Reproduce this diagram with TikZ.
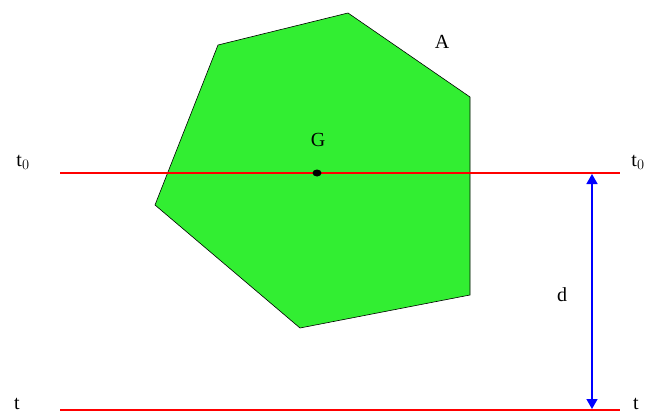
\documentclass[tikz,border=0pt]{standalone}
\usepackage{fontspec}
\setmainfont{Liberation Serif}
\usetikzlibrary{arrows.meta,shapes.geometric}
\definecolor{polygreen}{RGB}{50,238,50}
\begin{document}
\begin{tikzpicture}[x=1pt,y=-1pt,
  redline/.style={red,line width=1.3pt},
  lbl/.style={font=\fontsize{20}{20}\selectfont,inner sep=0pt},
  poly/.style={fill=polygreen,draw=black,line width=0.6pt},
  darrow/.style={blue,line width=1.6pt,{Triangle[length=10pt,width=11pt]}-{Triangle[length=10pt,width=11pt]}}]
\useasboundingbox (0,0) rectangle (657,412);
\draw[poly] (218,45) -- (348,13) -- (470,97) -- (470,295) -- (300,328) -- (155,205) -- cycle;
\coordinate (l0a) at (60,173);
\coordinate (l0b) at (620,173);
\coordinate (l1a) at (60,410);
\coordinate (l1b) at (620,410);
\draw[redline] (l0a) -- (l0b);
\draw[redline] (l1a) -- (l1b);
\coordinate (top) at (592,174);
\coordinate (bot) at (592,409);
\draw[darrow] (top) -- (bot);
\node[ellipse,fill=black,inner sep=0pt,minimum width=9pt,minimum height=7pt] (g) at (317,173) {};
\node[lbl] (glab) at (318,140) {G};
\node[lbl] (alab) at (442,42) {A};
\node[lbl] (dlab) at (562,295) {d};
\node[lbl] (t0l) at (23,162) {t$_{0}$};
\node[lbl] (t0r) at (638,162) {t$_{0}$};
\node[lbl,anchor=south] (tl) at (17,410) {t};
\node[lbl,anchor=south] (tr) at (636,410) {t};
\end{tikzpicture}
\end{document}
